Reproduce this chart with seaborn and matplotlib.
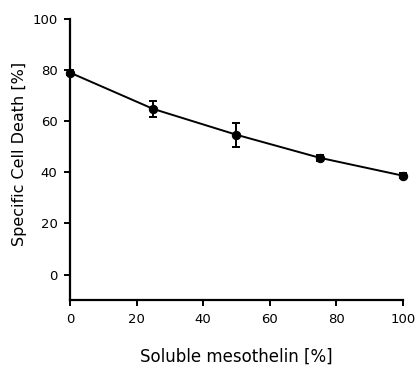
import matplotlib
matplotlib.use("Agg")
import matplotlib.pyplot as plt
import pandas as pd
import seaborn as sns

# values
soluble_pct = [0, 25, 50, 75, 100]
cell_death = [79.0, 64.8, 54.7, 45.7, 38.7]
cell_death_err = [1.0, 3.0, 4.6, 1.2, 1.0]
x_ticks = [0, 20, 40, 60, 80, 100]
y_ticks = [0, 20, 40, 60, 80, 100]

sns.set_theme(style="ticks")
plt.rcParams["font.family"] = ["DejaVu Sans"]
plt.rcParams["text.color"] = "black"
plt.rcParams["axes.labelcolor"] = "black"
plt.rcParams["xtick.color"] = "black"
plt.rcParams["ytick.color"] = "black"

df = pd.DataFrame({"x": soluble_pct, "y": cell_death, "err": cell_death_err})

fig = plt.figure(figsize=(4.17, 3.79), dpi=100)
ax = fig.add_axes([0.168, 0.208, 0.798, 0.742])

sns.lineplot(data=df, x="x", y="y", color="black", linewidth=1.4,
             marker="o", markersize=6, markeredgecolor="black", ax=ax)
ax.errorbar(df["x"], df["y"], yerr=df["err"], fmt="none", ecolor="black",
            elinewidth=1.4, capsize=3, capthick=1.4, clip_on=False)
for line in ax.lines:
    line.set_clip_on(False)

ax.set_xlim(0, 100)
ax.set_ylim(-10, 100)
ax.set_xticks(x_ticks)
ax.set_yticks(y_ticks)
ax.set_xlabel("Soluble mesothelin [%]", fontsize=12, labelpad=16)
ax.set_ylabel("Specific Cell Death [%]", fontsize=11.5)
ax.yaxis.set_label_coords(-0.13, 0.52)
ax.tick_params(axis="both", labelsize=9.5, length=4, width=1.4, pad=5)
sns.despine(ax=ax)
for side in ("left", "bottom"):
    ax.spines[side].set_linewidth(1.6)
    ax.spines[side].set_color("black")

fig.savefig("out.png", dpi=100)
